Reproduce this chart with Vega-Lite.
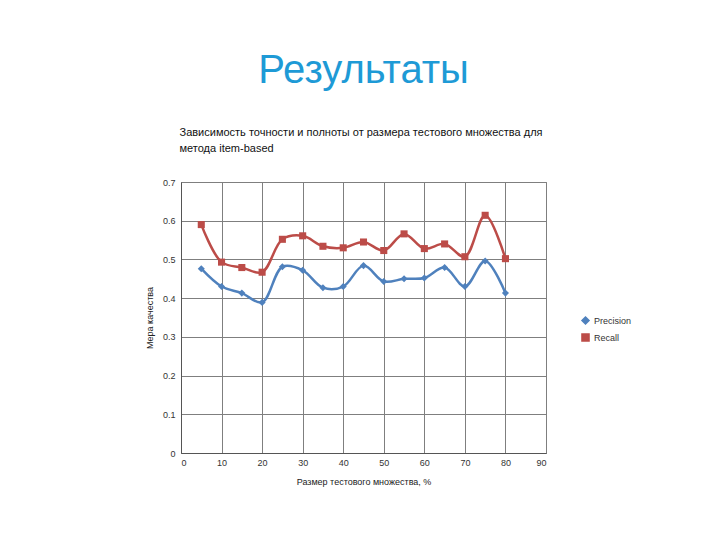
{
  "$schema": "https://vega.github.io/schema/vega-lite/v6.json",
  "width": 365,
  "height": 271,
  "autosize": {"type": "none"},
  "padding": {"left": 181, "top": 182, "right": 174, "bottom": 87},
  "background": "white",
  "config": {
    "font": "Liberation Sans",
    "view": {"stroke": "#7f7f7f", "strokeWidth": 1}
  },
  "title": {
    "text": "Результаты",
    "font": "Liberation Sans",
    "fontSize": 40,
    "fontWeight": "normal",
    "color": "#1E9AD6",
    "anchor": "middle",
    "frame": "group",
    "offset": 35
  },
  "data": {
    "values": [
      {"size": 5, "series": "Precision", "value": 0.476},
      {"size": 10, "series": "Precision", "value": 0.430},
      {"size": 15, "series": "Precision", "value": 0.413},
      {"size": 20, "series": "Precision", "value": 0.389},
      {"size": 25, "series": "Precision", "value": 0.481},
      {"size": 30, "series": "Precision", "value": 0.472},
      {"size": 35, "series": "Precision", "value": 0.427},
      {"size": 40, "series": "Precision", "value": 0.430},
      {"size": 45, "series": "Precision", "value": 0.484},
      {"size": 50, "series": "Precision", "value": 0.443},
      {"size": 55, "series": "Precision", "value": 0.450},
      {"size": 60, "series": "Precision", "value": 0.452},
      {"size": 65, "series": "Precision", "value": 0.479},
      {"size": 70, "series": "Precision", "value": 0.430},
      {"size": 75, "series": "Precision", "value": 0.496},
      {"size": 80, "series": "Precision", "value": 0.413},
      {"size": 5, "series": "Recall", "value": 0.590},
      {"size": 10, "series": "Recall", "value": 0.493},
      {"size": 15, "series": "Recall", "value": 0.479},
      {"size": 20, "series": "Recall", "value": 0.467},
      {"size": 25, "series": "Recall", "value": 0.552},
      {"size": 30, "series": "Recall", "value": 0.561},
      {"size": 35, "series": "Recall", "value": 0.534},
      {"size": 40, "series": "Recall", "value": 0.530},
      {"size": 45, "series": "Recall", "value": 0.545},
      {"size": 50, "series": "Recall", "value": 0.523},
      {"size": 55, "series": "Recall", "value": 0.566},
      {"size": 60, "series": "Recall", "value": 0.528},
      {"size": 65, "series": "Recall", "value": 0.540},
      {"size": 70, "series": "Recall", "value": 0.507},
      {"size": 75, "series": "Recall", "value": 0.614},
      {"size": 80, "series": "Recall", "value": 0.502}
    ]
  },
  "resolve": {"axis": {"x": "independent"}},
  "encoding": {
    "y": {
      "field": "value",
      "type": "quantitative",
      "scale": {"domain": [0, 0.7], "nice": false},
      "axis": {
        "values": [0, 0.1, 0.2, 0.3, 0.4, 0.5, 0.6, 0.7],
        "labelOverlap": false,
        "format": ".1~f",
        "title": "Мера качества",
        "titleFont": "Liberation Sans",
        "titleFontSize": 9,
        "titleFontWeight": "normal",
        "titleColor": "#222222",
        "titlePadding": 8,
        "labelFontSize": 9,
        "labelColor": "#333333",
        "labelPadding": 6,
        "ticks": false,
        "domainColor": "#555555",
        "gridColor": "#7f7f7f",
        "gridOpacity": 1,
        "gridWidth": 1
      }
    },
    "color": {
      "field": "series",
      "type": "nominal",
      "scale": {"domain": ["Precision", "Recall"], "range": ["#4F81BD", "#BC4C48"]},
      "legend": {
        "title": null,
        "orient": "none",
        "legendX": 400,
        "legendY": 134,
        "labelFontSize": 9,
        "labelColor": "#333333",
        "symbolSize": 50,
        "rowPadding": 2
      }
    }
  },
  "layer": [
    {
      "mark": {"type": "line", "interpolate": "catmull-rom", "strokeWidth": 2.5},
      "encoding": {
        "x": {
          "field": "size",
          "type": "quantitative",
          "scale": {"domain": [0, 90], "nice": false},
          "axis": {
            "values": [0, 10, 20, 30, 40, 50, 60, 70, 80, 90],
            "title": "Размер тестового множества, %",
            "titleFont": "Liberation Sans",
            "titleFontSize": 9,
            "titleFontWeight": "normal",
            "titleColor": "#222222",
            "titlePadding": 10,
            "labelFontSize": 9,
            "labelColor": "#333333",
            "labelPadding": 5,
            "ticks": false,
            "domainColor": "#555555",
            "gridColor": "#7f7f7f",
            "gridOpacity": 1,
            "gridWidth": 1
          }
        }
      }
    },
    {
      "mark": {"type": "point", "filled": true, "opacity": 1, "size": 50},
      "encoding": {
        "x": {
          "field": "size",
          "type": "quantitative",
          "scale": {"domain": [0, 90], "nice": false},
          "axis": {
            "orient": "top",
            "title": ["Зависимость точности и полноты от размера тестового множества для", "метода item-based"],
            "titleFont": "Liberation Sans",
            "titleFontSize": 11,
            "titleFontWeight": "normal",
            "titleColor": "#111111",
            "titleAnchor": "start",
            "titleAlign": "left",
            "titleBaseline": "top",
            "titleX": -2,
            "titleY": -56,
            "titleLineHeight": 16,
            "domain": false,
            "ticks": false,
            "labels": false,
            "grid": false
          }
        },
        "shape": {
          "field": "series",
          "type": "nominal",
          "scale": {"domain": ["Precision", "Recall"], "range": ["diamond", "square"]},
          "legend": {
            "title": null,
            "orient": "none",
            "legendX": 400,
            "legendY": 134,
            "labelFontSize": 9,
            "labelColor": "#333333",
            "symbolSize": 50,
            "rowPadding": 2
          }
        }
      }
    }
  ]
}
